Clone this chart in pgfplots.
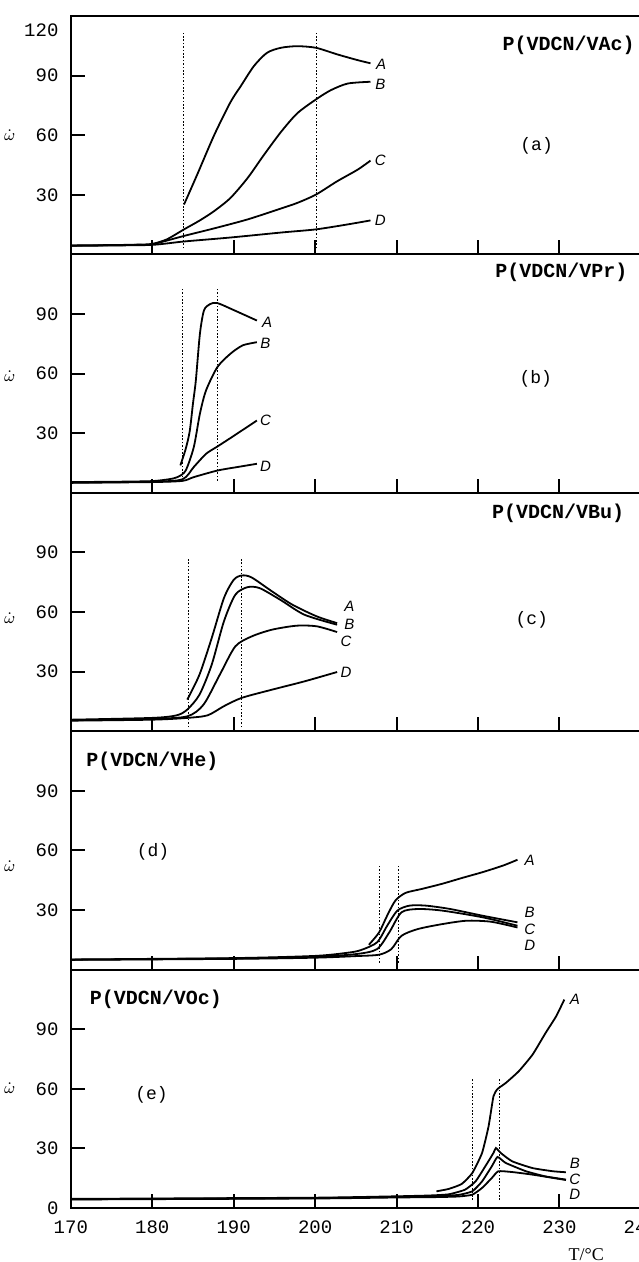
\documentclass[border=0pt]{standalone}
\usepackage{fontspec}
\setmainfont{Liberation Serif}
\newfontfamily\monofont{Liberation Mono}
\newfontfamily\sansfont{Liberation Sans}
\usepackage{pgfplots}
\pgfplotsset{compat=1.18}
\usepgfplotslibrary{groupplots}

\pgfplotsset{
  curve/.style={black, line width=0.9pt, smooth, tension=0.45},
  guide/.style={black, line width=0.4pt, dash pattern=on 0.8pt off 0.9pt},
}
\tikzset{
  clab/.style={font=\sansfont\itshape\fontsize{7.5}{8}\selectfont, inner sep=0pt},
  ptitle/.style={font=\monofont\bfseries\fontsize{10}{11}\selectfont, inner sep=0pt},
  pletter/.style={font=\monofont\fontsize{9}{10}\selectfont, inner sep=0pt},
  wlab/.style={font=\fontsize{8}{9}\selectfont, inner sep=0pt},
}

\begin{document}
\begin{tikzpicture}
\begin{groupplot}[
  group style={group size=1 by 5, vertical sep=0pt, xticklabels at=edge bottom},
  width=285pt, height=119.2pt, scale only axis,
  xmin=170, xmax=240, ymin=0, ymax=120,
  xtick={170,180,...,240},
  ytick={30,60,90},
  tick align=inside, xtick pos=left, ytick pos=left,
  major tick length=7pt,
  axis line style={line width=1pt},
  major tick style={line width=1pt, black},
  ticklabel style={font=\monofont\fontsize{9.5}{10}\selectfont},
  /pgf/number format/assume math mode=true,
  yticklabel style={xshift=-5pt, inner sep=1pt},
  xticklabel style={yshift=-3pt},
  clip=false,
]

% (a) P(VDCN/VAc)
\nextgroupplot[extra y ticks={120}, extra y tick style={major tick length=0pt, yticklabel style={yshift=-7pt}}]
\coordinate (bbTR) at (axis cs:239.75,120);
\addplot[guide] coordinates {(183.8,3) (183.8,112)};
\addplot[guide] coordinates {(200.1,3) (200.1,112)};
\addplot[curve] coordinates {(183.9,25.1) (185.5,40) (187.6,60) (189.6,76.6) (190.9,84.9) (192.5,94.9) (194.1,101.5) (195.8,104) (197.8,104.8) (200.1,104) (202.7,100.7) (205.2,97.8) (206.8,96.2)};
\addplot[curve] coordinates {(170,4.5) (175,4.7) (178,4.9) (180,5.3) (181.8,7.6) (183.9,12.6) (185.8,17) (187.6,21.8) (189.6,28.4) (191.7,38.4) (193.7,50) (195.8,61.6) (197.8,71) (200.1,78) (201.9,82.6) (204,86) (206.8,86.9)};
\addplot[curve] coordinates {(170,4.4) (175,4.6) (178,4.8) (180,5.1) (183.9,9.3) (187.6,13.1) (191.7,17.6) (195.8,23.1) (197.8,25.9) (200.1,30.1) (202.7,36.8) (205.2,42.6) (206.8,47.2)};
\addplot[curve] coordinates {(170,4.3) (175,4.5) (180,4.8) (183.9,6.5) (189.6,8.5) (195.8,11) (200.1,12.6) (204,15.1) (206.8,17.1)};
\node[clab] at (axis cs:208.1,95.7) {A};
\node[clab] at (axis cs:208,85.5) {B};
\node[clab] at (axis cs:208,47.5) {C};
\node[clab] at (axis cs:208,16.9) {D};
\node[ptitle, anchor=east] at (axis cs:239.3,105) {P(VDCN/VAc)};
\node[pletter] at (axis cs:227.2,54.5) {(a)};
\node[wlab] at (axis cs:162.5,60) {$\dot{\omega}$};

% (b) P(VDCN/VPr)
\nextgroupplot
\addplot[guide] coordinates {(183.7,6) (183.7,103.5)};
\addplot[guide] coordinates {(188,6) (188,103.5)};
\addplot[curve] coordinates {(183.45,13.8) (184.1,22) (184.6,31) (185,45) (185.35,56.5) (185.85,80) (186.35,91.8) (187.1,95) (188,95.5) (190.1,91.8) (192.85,86.7)};
\addplot[curve] coordinates {(170,5.4) (176,5.6) (180,5.9) (182,6.8) (183.1,7.9) (184.1,11.2) (185.1,23) (185.85,39.8) (186.6,51.5) (188,63.3) (189.6,70) (191.1,74.2) (192.85,75.8)};
\addplot[curve] coordinates {(170,5.2) (180,5.6) (183.7,6.8) (185.1,13) (186.6,19.6) (188,23.3) (190.1,28.9) (192.85,36.4)};
\addplot[curve] coordinates {(170,5.0) (180,5.4) (183.7,6.0) (185.1,7.9) (188,11.2) (190.5,13) (192.85,14.6)};
\node[clab] at (axis cs:194.1,85.9) {A};
\node[clab] at (axis cs:193.9,75) {B};
\node[clab] at (axis cs:193.9,36.4) {C};
\node[clab] at (axis cs:193.9,13.3) {D};
\node[ptitle, anchor=east] at (axis cs:238.4,111) {P(VDCN/VPr)};
\node[pletter] at (axis cs:227.1,57.4) {(b)};
\node[wlab] at (axis cs:162.5,58.5) {$\dot{\omega}$};

% (c) P(VDCN/VBu)
\nextgroupplot
\addplot[guide] coordinates {(184.4,2) (184.4,86.8)};
\addplot[guide] coordinates {(191,2) (191,86.8)};
\addplot[curve] coordinates {(184.3,15.9) (185.8,28.5) (187.3,46.9) (188.8,67) (190,76.2) (191,78.4) (192.2,77.4) (194.7,70.4) (197.2,63.7) (200.2,57.8) (202.7,54.4)};
\addplot[curve] coordinates {(170,5.8) (180,6.7) (183,8) (184.3,10.9) (185.8,18.4) (187.3,33.5) (188.8,55.3) (190.2,68.7) (191.7,72.5) (193.2,72) (195.7,66.2) (198.7,58.6) (202.7,53.6)};
\addplot[curve] coordinates {(170,5.5) (180,6.2) (184.3,7.5) (186.3,13.4) (188.3,28.5) (190.2,42.7) (192.2,47.7) (194.7,51.1) (197.7,53.1) (200.2,52.8) (202.7,49.9)};
\addplot[curve] coordinates {(170,5.3) (180,5.8) (184.3,6.7) (186.8,8) (188.8,12.6) (191,16.8) (194.7,20.9) (198.7,25.1) (202.7,29.8)};
\node[clab] at (axis cs:204.2,62.8) {A};
\node[clab] at (axis cs:204.2,53.9) {B};
\node[clab] at (axis cs:203.8,45.2) {C};
\node[clab] at (axis cs:203.8,29.6) {D};
\node[ptitle, anchor=east] at (axis cs:238,109.7) {P(VDCN/VBu)};
\node[pletter] at (axis cs:226.6,56) {(c)};
\node[wlab] at (axis cs:162.5,57) {$\dot{\omega}$};

% (d) P(VDCN/VHe)
\nextgroupplot
\addplot[guide] coordinates {(207.85,3.5) (207.85,52.4)};
\addplot[guide] coordinates {(210.25,3.5) (210.25,52.4)};
\addplot[curve] coordinates {(206.6,12.5) (207.85,18.7) (208.85,27.2) (209.85,34.7) (211.1,38.6) (213.1,40.6) (215.6,43.2) (218.1,46.2) (220.6,49.1) (223.1,52.4) (224.85,55.3)};
\addplot[curve] coordinates {(170,5.1) (190,5.8) (200,6.9) (204,8.5) (205.6,9.8) (207.6,13.7) (208.85,22.1) (210.1,29.7) (211.6,32.2) (213.6,32.2) (216.6,30.5) (220.6,27.1) (224.85,23.8)};
\addplot[curve] coordinates {(170,5.0) (190,5.6) (200,6.5) (205,7.8) (207.6,10.3) (209.1,18.7) (210.6,28.8) (212.6,30.5) (215.6,29.7) (220.6,26.3) (224.85,22.1)};
\addplot[curve] coordinates {(170,4.9) (190,5.4) (200,6.0) (205,6.8) (207.85,7.5) (209.35,10.3) (210.6,17) (212.6,20.4) (215.6,22.9) (218.6,24.6) (221.6,24.1) (224.85,21.2)};
\node[clab] at (axis cs:226.35,55) {A};
\node[clab] at (axis cs:226.35,28.8) {B};
\node[clab] at (axis cs:226.35,20.4) {C};
\node[clab] at (axis cs:226.35,12) {D};
\node[ptitle, anchor=west] at (axis cs:171.85,104.7) {P(VDCN/VHe)};
\node[pletter] at (axis cs:180.1,59.2) {(d)};
\node[wlab] at (axis cs:162.5,52) {$\dot{\omega}$};

% (e) P(VDCN/VOc)
\nextgroupplot[ytick={0,30,60,90}]
\coordinate (bbBL) at (axis cs:161.3,0);
\addplot[guide] coordinates {(219.3,4) (219.3,65)};
\addplot[guide] coordinates {(222.6,4) (222.6,65)};
\addplot[curve, tension=0.3] coordinates {(214.9,8.4) (216.4,9.6) (218,12.1) (219.3,17.6) (220.5,27.7) (221.3,41.1) (221.9,56.2) (222.4,59.9) (223.4,62.9) (225,68.8) (226.7,77.2) (228.3,88.1) (229.6,96.5) (230.6,104.9)};
\addplot[curve, tension=0.3] coordinates {(170,4.6) (200,5.2) (210,5.9) (214,6.3) (216.4,6.9) (218.4,9.2) (219.7,13.4) (220.9,21) (221.9,27.7) (222.2,30.2) (222.8,27.7) (224.2,23.5) (226.7,20.1) (229.2,18.5) (230.8,18)};
\addplot[curve, tension=0.3] coordinates {(170,4.4) (200,5.0) (210,5.6) (215,6.0) (217.6,6.6) (219.3,8.4) (220.5,13.4) (221.7,21) (222.4,25.7) (223.4,22.7) (225.9,18.5) (228.3,15.9) (230.8,14.3)};
\addplot[curve, tension=0.3] coordinates {(170,4.3) (200,4.8) (210,5.3) (215,5.5) (217.6,5.8) (219.3,6.7) (220.5,10.1) (221.7,15.1) (222.5,18.5) (224.2,18.1) (226.7,16.8) (230.8,14.1)};
\node[clab] at (axis cs:231.9,105) {A};
\node[clab] at (axis cs:231.9,22.6) {B};
\node[clab] at (axis cs:231.9,14.3) {C};
\node[clab] at (axis cs:231.9,6.7) {D};
\node[ptitle, anchor=west] at (axis cs:172.3,105) {P(VDCN/VOc)};
\node[pletter] at (axis cs:179.9,57.2) {(e)};
\node[wlab] at (axis cs:162.5,60.5) {$\dot{\omega}$};
\node[font=\fontsize{9}{10}\selectfont, inner sep=0pt] at (axis cs:233.3,0) [yshift=-23.5pt] {T/°C};
\end{groupplot}
\pgfresetboundingbox
\path[use as bounding box] ([yshift=-27pt]bbBL) rectangle ([yshift=8pt]bbTR);
\end{tikzpicture}
\end{document}
